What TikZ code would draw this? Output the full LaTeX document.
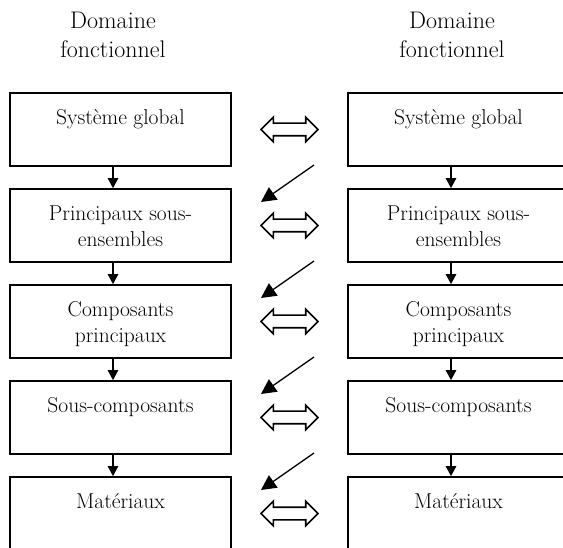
\documentclass[tikz,border=0pt]{standalone}
\usetikzlibrary{arrows.meta,shapes.arrows,calc}
\begin{document}
\begin{tikzpicture}[x=1pt,y=-1pt,
  box/.style={draw,line width=1.8pt,minimum width=221pt,minimum height=73pt,inner sep=0pt},
  txt/.style={font=\fontsize{21.5}{26.5}\selectfont,align=center,anchor=base,inner sep=0pt},
  headtxt/.style={font=\fontsize{24}{29}\selectfont,align=center,anchor=base,inner sep=0pt},
  varrow/.style={line width=1.2pt,-{Triangle[length=10pt,width=10.5pt]}},
  diagarrow/.style={line width=1.3pt,-{Triangle[length=15pt,width=15pt]}},
  dbl/.style={double arrow,draw,line width=1.6pt,minimum height=57pt,double arrow head extend=6pt,inner xsep=0pt,inner ysep=5.5pt,text height=0pt,text depth=0pt}
]
\useasboundingbox (0,0) rectangle (563,548);
\clip (0,0) rectangle (563,548);
\node[headtxt] (HL) at (113,58) {Domaine\\fonctionnel};
\node[headtxt] (HR) at (452,58) {Domaine\\fonctionnel};
\foreach \i/\lab/\off in {1/{Système global}/32,2/{Principaux sous-\\ensembles}/58.5,3/{Composants\\principaux}/58.5,4/{Sous-composants}/32,5/{Matériaux}/32}{
  \pgfmathsetmacro\t{93+96*(\i-1)}
  \node[box] (L\i) at (120.5,\t+36.5) {};
  \node[box] (R\i) at (458.5,\t+36.5) {};
  \node[txt] (LT\i) at ($(L\i.north)+(0,\off)$) {\lab};
  \node[txt] (RT\i) at ($(R\i.north)+(0,\off)$) {\lab};
  \node[dbl] (D\i) at (289.5,\t+36.5) {};
}
\foreach \i in {1,...,4}{
  \pgfmathtruncatemacro\j{\i+1}
  \pgfmathsetmacro\t{93+96*(\i-1)}
  \draw[varrow] ($(L\i.south)+(-7.5,0)$) -- ($(L\j.north)+(-7.5,0)$);
  \draw[varrow] ($(R\i.south)+(-7.5,0)$) -- ($(R\j.north)+(-7.5,0)$);
  \coordinate (S\i) at (314,\t+72);
  \coordinate (E\i) at (261,\t+109);
  \draw[diagarrow] (S\i) -- (E\i);
}
\end{tikzpicture}
\end{document}
